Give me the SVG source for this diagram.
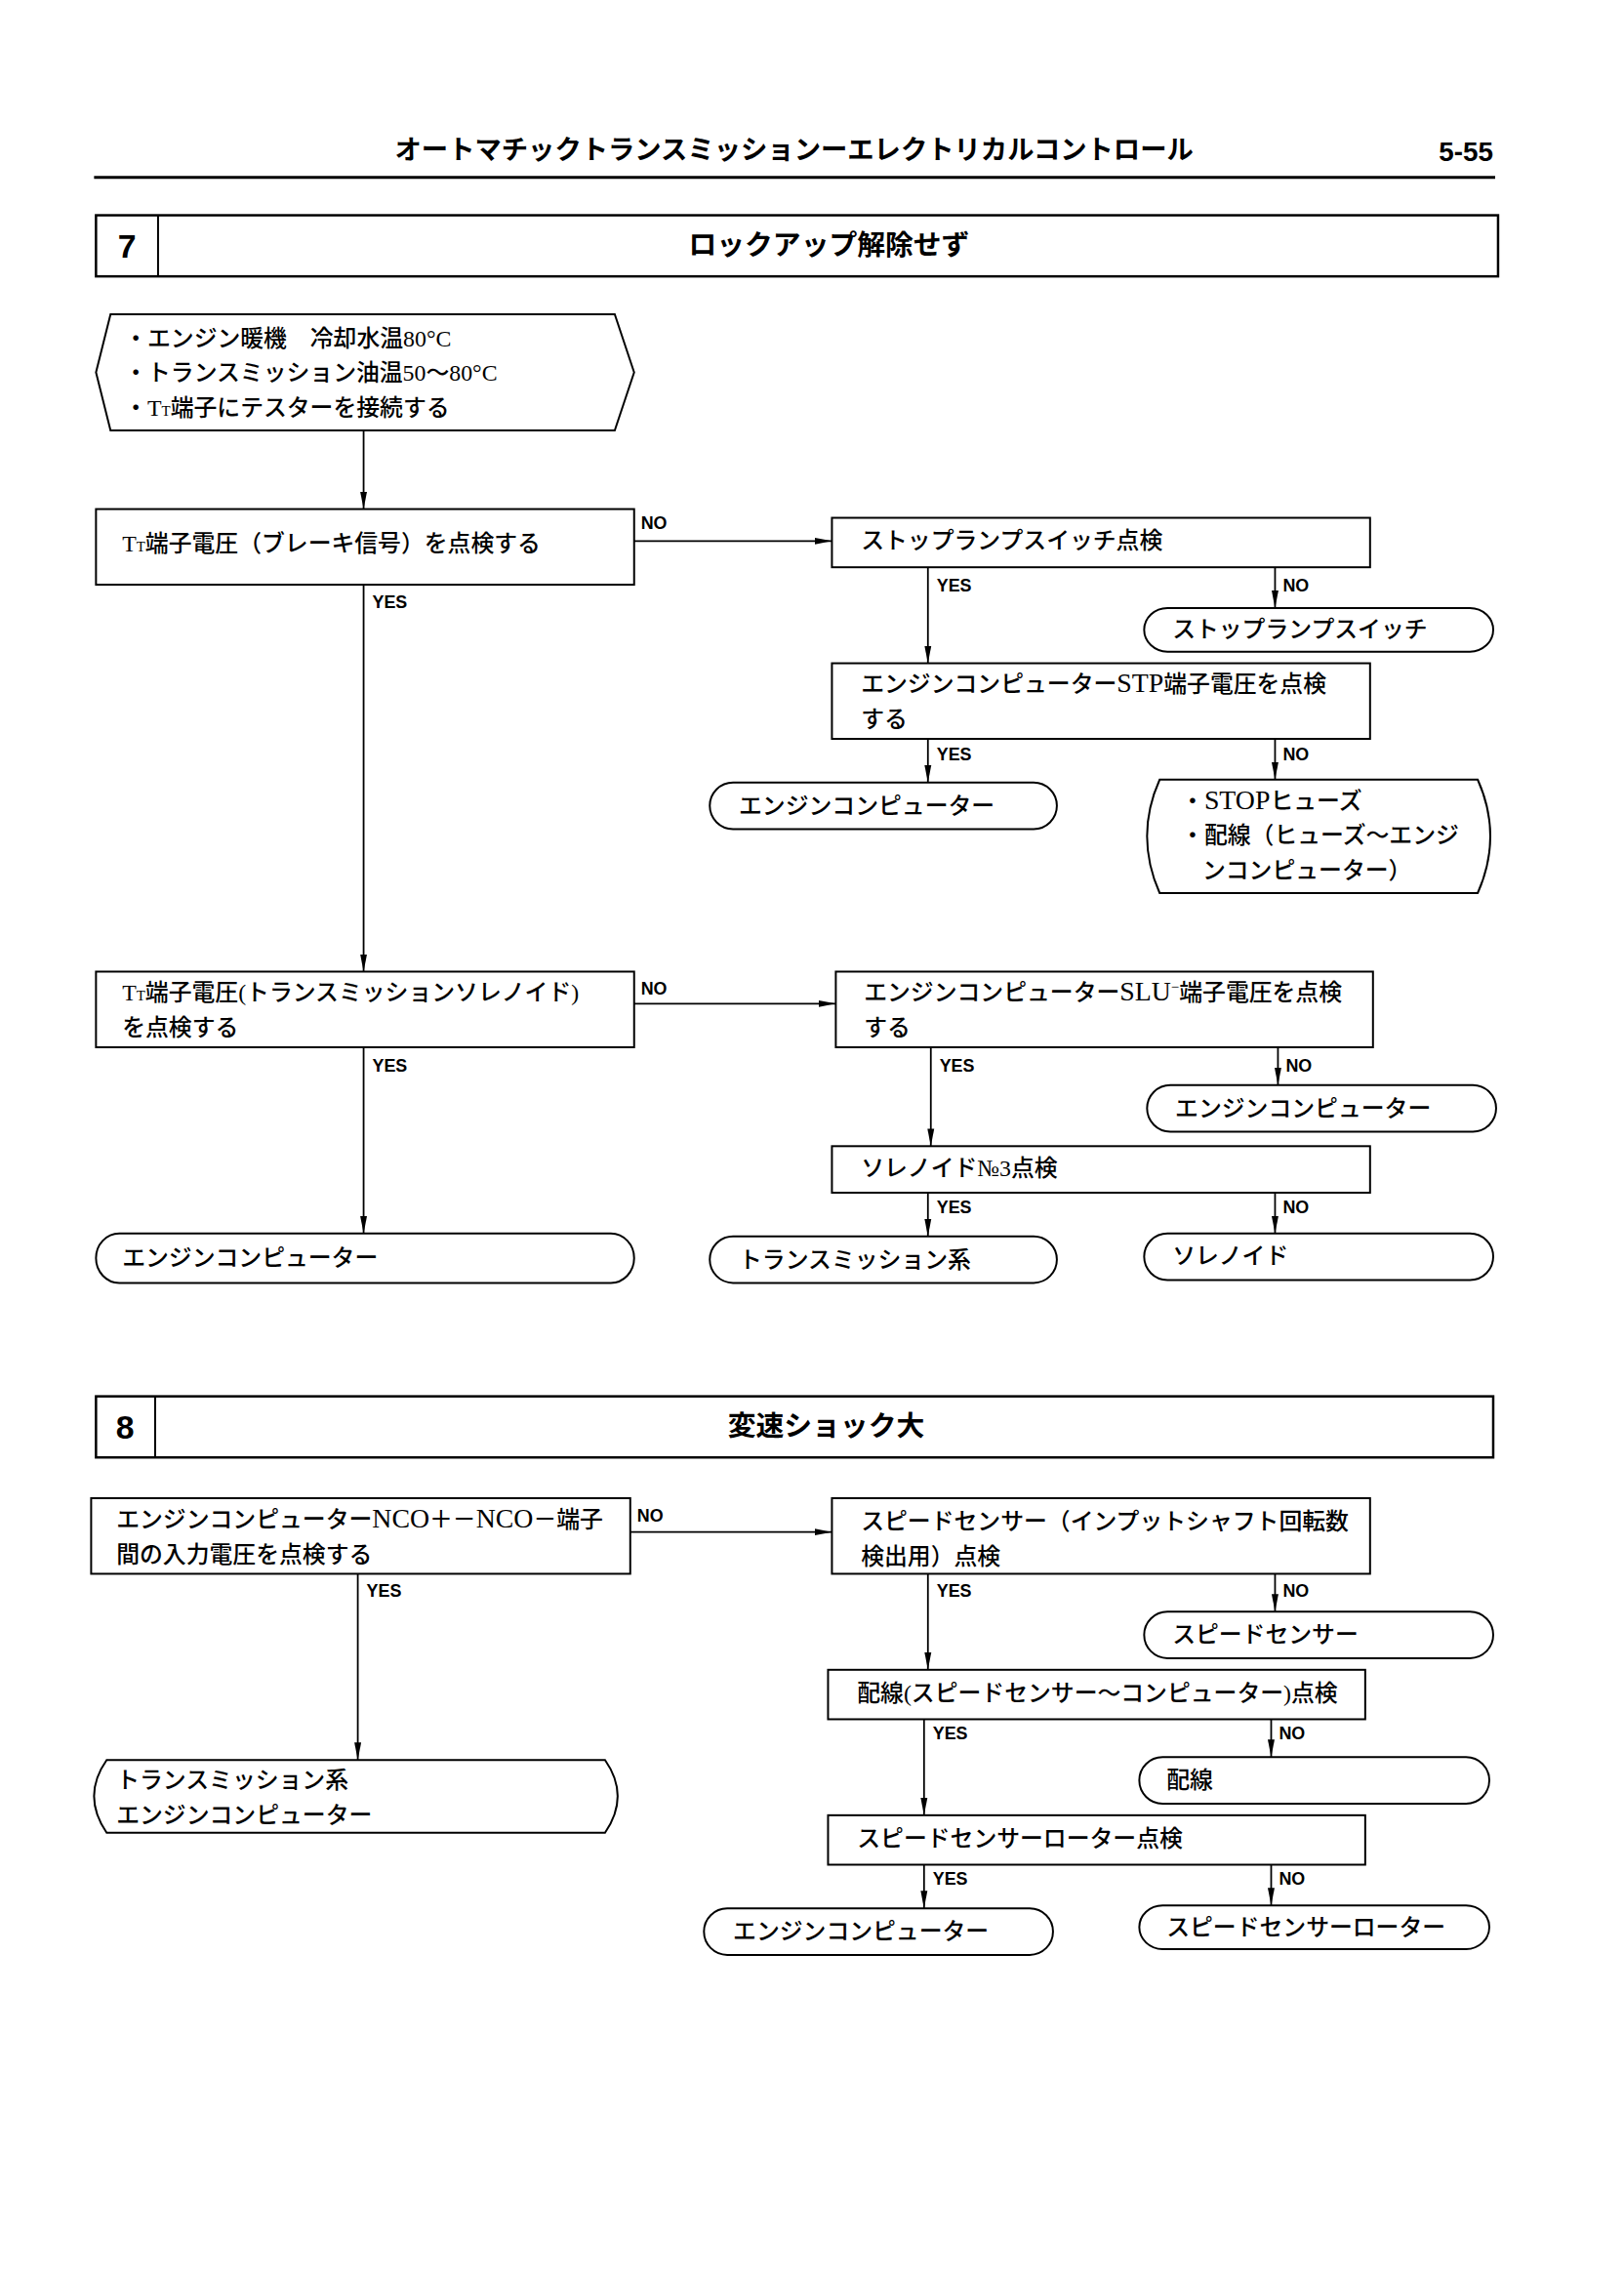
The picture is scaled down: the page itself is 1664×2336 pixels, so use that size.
<svg xmlns="http://www.w3.org/2000/svg" width="1664" height="2336" viewBox="0 0 1664 2336">
<defs>
<style>
.box{fill:#fff;stroke:#000;stroke-width:2}
.hb{fill:none;stroke:#000;stroke-width:2.5}
.c{stroke:#000;stroke-width:1.8;fill:none}
.t{font-family:"Liberation Serif","Noto Sans CJK JP",serif;font-size:24px;font-weight:500;fill:#000}
.lb{font-family:"Liberation Sans Narrow","Liberation Sans",sans-serif;font-size:18px;font-weight:bold;fill:#000}
.h{font-family:"Noto Sans CJK JP",sans-serif;font-weight:bold;fill:#000}
.num{font-family:"Liberation Sans Narrow","Liberation Sans",sans-serif;font-weight:bold;fill:#000}
.s{font-size:15px}
.L{font-size:28px}
</style>
<marker id="ah" markerWidth="20" markerHeight="10" refX="18" refY="4" orient="auto" markerUnits="userSpaceOnUse">
<path d="M0,0.5 L18,4 L0,7.5 Z" fill="#000"/>
</marker>
</defs>
<rect width="1664" height="2336" fill="#fff"/>
<g transform="scale(0.9935)">
<g id="header">
<text class="h" x="819" y="164" font-size="27.5" text-anchor="middle">オートマチックトランスミッションーエレクトリカルコントロール</text>
<text class="num" x="1540" y="166" font-size="28" text-anchor="end">5-55</text>
<line x1="97" y1="183" x2="1542" y2="183" stroke="#000" stroke-width="3"/>
</g>

<g id="sec7">
<rect class="hb" x="99" y="222" width="1446" height="63"/>
<line x1="163" y1="222" x2="163" y2="285" stroke="#000" stroke-width="2"/>
<text class="num" x="131" y="266" font-size="34" text-anchor="middle">7</text>
<text class="h" x="855" y="263" font-size="29" text-anchor="middle">ロックアップ解除せず</text>
</g>

<g id="connectors">
<path class="c" d="M375,444 V525" marker-end="url(#ah)"/>
<path class="c" d="M654,558 H858" marker-end="url(#ah)"/>
<path class="c" d="M957,585 V684" marker-end="url(#ah)"/>
<path class="c" d="M1315,585 V627" marker-end="url(#ah)"/>
<path class="c" d="M957,762 V807" marker-end="url(#ah)"/>
<path class="c" d="M1315,762 V804" marker-end="url(#ah)"/>
<path class="c" d="M375,603 V1002" marker-end="url(#ah)"/>
<path class="c" d="M654,1035 H862" marker-end="url(#ah)"/>
<path class="c" d="M960,1080 V1182" marker-end="url(#ah)"/>
<path class="c" d="M1318,1080 V1119" marker-end="url(#ah)"/>
<path class="c" d="M957,1230 V1275" marker-end="url(#ah)"/>
<path class="c" d="M1315,1230 V1272" marker-end="url(#ah)"/>
<path class="c" d="M375,1080 V1272" marker-end="url(#ah)"/>
<path class="c" d="M650,1580 H858" marker-end="url(#ah)"/>
<path class="c" d="M957,1623 V1722" marker-end="url(#ah)"/>
<path class="c" d="M1315,1623 V1662" marker-end="url(#ah)"/>
<path class="c" d="M953,1773 V1872" marker-end="url(#ah)"/>
<path class="c" d="M1311,1773 V1812" marker-end="url(#ah)"/>
<path class="c" d="M953,1923 V1968" marker-end="url(#ah)"/>
<path class="c" d="M1311,1923 V1965" marker-end="url(#ah)"/>
<path class="c" d="M369,1623 V1815" marker-end="url(#ah)"/>
<text class="lb" x="661" y="546">NO</text>
<text class="lb" x="966" y="610">YES</text>
<text class="lb" x="1323" y="610">NO</text>
<text class="lb" x="966" y="784">YES</text>
<text class="lb" x="1323" y="784">NO</text>
<text class="lb" x="384" y="627">YES</text>
<text class="lb" x="661" y="1026">NO</text>
<text class="lb" x="969" y="1105">YES</text>
<text class="lb" x="1326" y="1105">NO</text>
<text class="lb" x="966" y="1251">YES</text>
<text class="lb" x="1323" y="1251">NO</text>
<text class="lb" x="384" y="1105">YES</text>
<text class="lb" x="657" y="1569">NO</text>
<text class="lb" x="966" y="1647">YES</text>
<text class="lb" x="1323" y="1647">NO</text>
<text class="lb" x="962" y="1794">YES</text>
<text class="lb" x="1319" y="1794">NO</text>
<text class="lb" x="962" y="1944">YES</text>
<text class="lb" x="1319" y="1944">NO</text>
<text class="lb" x="378" y="1647">YES</text>
</g>

<g id="start">
<polygon class="box" points="99,384 114,324 634,324 654,384 634,444 114,444"/>
<text class="t" x="128" y="357">・エンジン暖機　冷却水温80°C</text>
<text class="t" x="128" y="393">・トランスミッション油温50～80°C</text>
<text class="t" x="128" y="429">・T<tspan class="s">T</tspan>端子にテスターを接続する</text>
</g>

<g id="boxA">
<rect class="box" x="99" y="525" width="555" height="78"/>
<text class="t" x="126" y="569">T<tspan class="s">T</tspan>端子電圧（ブレーキ信号）を点検する</text>
</g>
<g id="boxB">
<rect class="box" x="858" y="534" width="555" height="51"/>
<text class="t" x="888" y="566">ストップランプスイッチ点検</text>
</g>
<g id="endSLS">
<rect class="box" x="1180" y="627" width="360" height="45" rx="24" ry="22.5"/>
<text class="t" x="1209" y="657">ストップランプスイッチ</text>
</g>
<g id="boxC">
<rect class="box" x="858" y="684" width="555" height="78"/>
<text class="t" x="888" y="714">エンジンコンピューター<tspan class="L">STP</tspan>端子電圧を点検</text>
<text class="t" x="888" y="750">する</text>
</g>
<g id="endEC1">
<rect class="box" x="732" y="807" width="358" height="48" rx="24" ry="24"/>
<text class="t" x="762" y="839">エンジンコンピューター</text>
</g>
<g id="endFuse">
<path class="box" d="M1196,804 H1524 Q1550,862 1524,921 H1196 Q1170,862 1196,804 Z"/>
<text class="t" x="1218" y="834">・<tspan class="L">STOP</tspan>ヒューズ</text>
<text class="t" x="1218" y="870">・配線（ヒューズ～エンジ</text>
<text class="t" x="1240" y="906">ンコンピューター）</text>
</g>
<g id="boxD">
<rect class="box" x="99" y="1002" width="555" height="78"/>
<text class="t" x="126" y="1032">T<tspan class="s">T</tspan>端子電圧(トランスミッションソレノイド)</text>
<text class="t" x="126" y="1068">を点検する</text>
</g>
<g id="boxE">
<rect class="box" x="862" y="1002" width="554" height="78"/>
<text class="t" x="891" y="1032">エンジンコンピューター<tspan class="L">SLU</tspan><tspan class="s" dy="-9">−</tspan><tspan dy="9">端子電圧を点検</tspan></text>
<text class="t" x="891" y="1068">する</text>
</g>
<g id="endEC2">
<rect class="box" x="1183" y="1119" width="360" height="48" rx="24" ry="24"/>
<text class="t" x="1212" y="1151">エンジンコンピューター</text>
</g>
<g id="boxF">
<rect class="box" x="858" y="1182" width="555" height="48"/>
<text class="t" x="888" y="1213">ソレノイド№3点検</text>
</g>
<g id="endTS1">
<rect class="box" x="732" y="1275" width="358" height="48" rx="24" ry="24"/>
<text class="t" x="762" y="1307">トランスミッション系</text>
</g>
<g id="endSol">
<rect class="box" x="1180" y="1272" width="360" height="48" rx="24" ry="24"/>
<text class="t" x="1209" y="1303">ソレノイド</text>
</g>
<g id="endEC3">
<rect class="box" x="99" y="1272" width="555" height="51" rx="24" ry="25.5"/>
<text class="t" x="126" y="1305">エンジンコンピューター</text>
</g>

<g id="sec8">
<rect class="hb" x="99" y="1440" width="1441" height="63"/>
<line x1="160" y1="1440" x2="160" y2="1503" stroke="#000" stroke-width="2"/>
<text class="num" x="129" y="1484" font-size="34" text-anchor="middle">8</text>
<text class="h" x="852" y="1481" font-size="29" text-anchor="middle">変速ショック大</text>
</g>
<g id="boxG">
<rect class="box" x="94" y="1545" width="556" height="78"/>
<text class="t" x="120" y="1575">エンジンコンピューター<tspan class="L">NCO</tspan>＋－<tspan class="L">NCO</tspan>－端子</text>
<text class="t" x="120" y="1611">間の入力電圧を点検する</text>
</g>
<g id="boxH">
<rect class="box" x="858" y="1545" width="555" height="78"/>
<text class="t" x="888" y="1577">スピードセンサー（インプットシャフト回転数</text>
<text class="t" x="888" y="1613">検出用）点検</text>
</g>
<g id="endSS">
<rect class="box" x="1180" y="1662" width="360" height="48" rx="24" ry="24"/>
<text class="t" x="1209" y="1694">スピードセンサー</text>
</g>
<g id="boxI">
<rect class="box" x="854" y="1722" width="554" height="51"/>
<text class="t" x="884" y="1754">配線(スピードセンサー～コンピューター)点検</text>
</g>
<g id="endWire">
<rect class="box" x="1175" y="1812" width="361" height="48" rx="24" ry="24"/>
<text class="t" x="1203" y="1844">配線</text>
</g>
<g id="boxJ">
<rect class="box" x="854" y="1872" width="554" height="51"/>
<text class="t" x="884" y="1904">スピードセンサーローター点検</text>
</g>
<g id="endEC4">
<rect class="box" x="726" y="1968" width="360" height="48" rx="24" ry="24"/>
<text class="t" x="756" y="2000">エンジンコンピューター</text>
</g>
<g id="endSSR">
<rect class="box" x="1175" y="1965" width="361" height="45" rx="24" ry="22.5"/>
<text class="t" x="1203" y="1996">スピードセンサーローター</text>
</g>
<g id="endTSEC">
<path class="box" d="M110,1815 H624 Q650,1852 624,1890 H110 Q84,1852 110,1815 Z"/>
<text class="t" x="120" y="1844">トランスミッション系</text>
<text class="t" x="120" y="1880">エンジンコンピューター</text>
</g>
</g>
</svg>
